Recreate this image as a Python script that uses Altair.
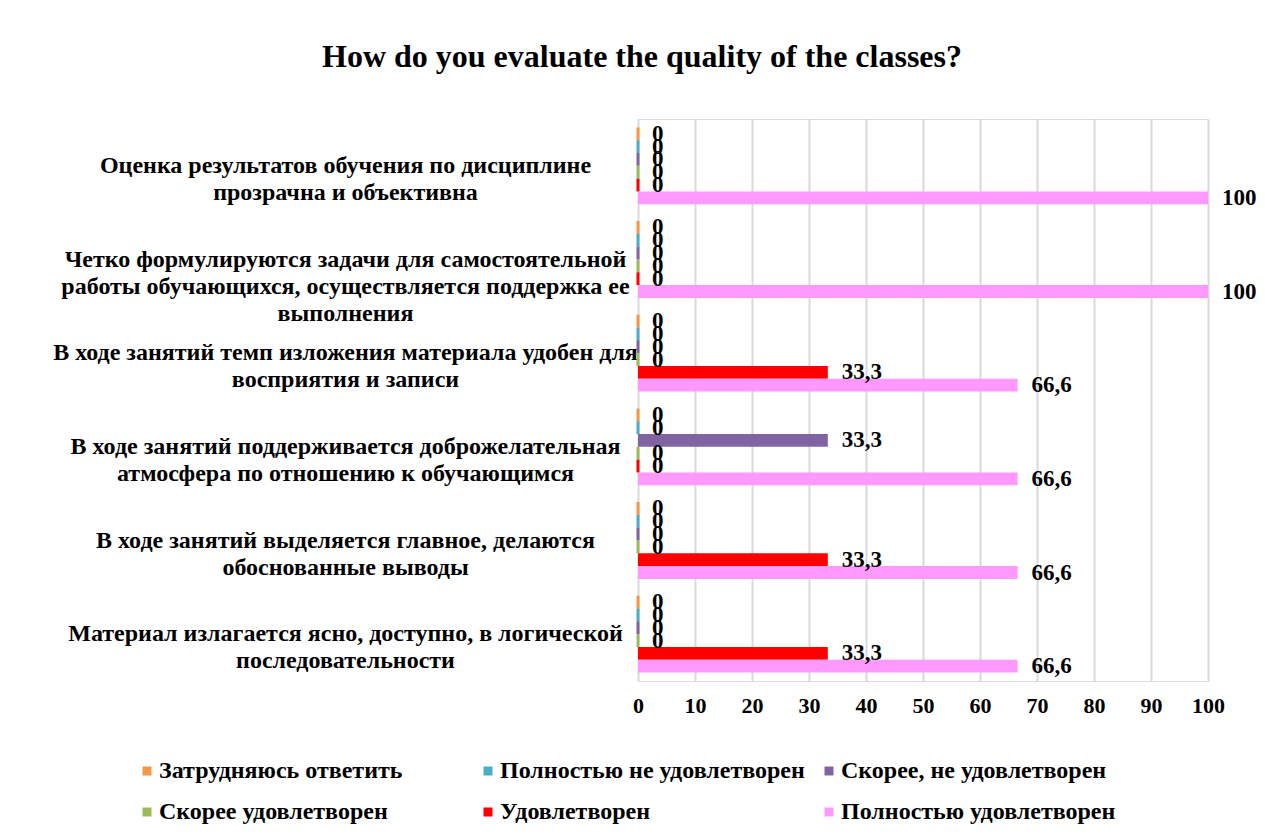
import altair as alt
import pandas as pd

categories = [
    "Оценка результатов обучения по дисциплине|прозрачна и объективна",
    "Четко формулируются задачи для самостоятельной|работы обучающихся, осуществляется поддержка ее|выполнения",
    "В ходе занятий темп изложения материала удобен для|восприятия и записи",
    "В ходе занятий поддерживается доброжелательная|атмосфера по отношению к обучающимся",
    "В ходе занятий выделяется главное, делаются|обоснованные выводы",
    "Материал излагается ясно, доступно, в логической|последовательности",
]

series = [
    "Затрудняюсь ответить",
    "Полностью не удовлетворен",
    "Скорее, не удовлетворен",
    "Скорее удовлетворен",
    "Удовлетворен",
    "Полностью удовлетворен",
]
colors = ["#F79646", "#4BACC6", "#8064A2", "#9BBB59", "#FF0000", "#FF99FF"]

v_zatr = [0, 0, 0, 0, 0, 0]
v_poln_ne = [0, 0, 0, 0, 0, 0]
v_skoree_ne = [0, 0, 0, 33.3, 0, 0]
v_skoree_ud = [0, 0, 0, 0, 0, 0]
v_ud = [0, 0, 33.3, 0, 33.3, 33.3]
v_poln_ud = [100, 100, 66.6, 66.6, 66.6, 66.6]

values = [v_zatr, v_poln_ne, v_skoree_ne, v_skoree_ud, v_ud, v_poln_ud]

rows = []
for si, s in enumerate(series):
    for ci, c in enumerate(categories):
        rows.append({"category": c, "series": s, "value": values[si][ci]})
df = pd.DataFrame(rows)

FONT = "Liberation Serif"

y_enc = alt.Y(
    "category:N",
    sort=categories,
    title=None,
    scale=alt.Scale(paddingInner=0.18, paddingOuter=0.09),
    axis=alt.Axis(
        labelExpr="split(datum.label, '|')",
        labelAlign="center",
        labelPadding=293,
        labelLimit=1000,
        labelFont=FONT,
        labelFontSize=24,
        labelFontWeight="bold",
        labelColor="black",
        labelLineHeight=27,
        ticks=False,
        domain=False,
        grid=False,
    ),
)
yoff = alt.YOffset("series:N", sort=series, scale=alt.Scale(domain=series, paddingInner=0, paddingOuter=0))

x_enc = alt.X(
    "value:Q",
    title=None,
    scale=alt.Scale(domain=[0, 100], nice=False),
    axis=alt.Axis(
        values=list(range(0, 101, 10)),
        labelFont=FONT,
        labelFontSize=22,
        labelFontWeight="bold",
        labelColor="black",
        labelPadding=14,
        labelFlush=False,
        ticks=False,
        domain=False,
        grid=True,
        gridColor="#d9d9d9",
        gridWidth=2,
    ),
)

color_enc = alt.Color(
    "series:N",
    sort=series,
    scale=alt.Scale(domain=series, range=colors),
    legend=alt.Legend(
        title=None,
        orient="none",
        direction="horizontal",
        legendX=-503,
        legendY=640,
        columns=3,
        gridAlign="all",
        columnPadding=12,
        rowPadding=17,
        symbolType="square",
        symbolSize=81,
        symbolStrokeWidth=0,
        labelOffset=0,
        labelFont=FONT,
        labelFontSize=24,
        labelFontWeight="bold",
        labelColor="black",
        labelLimit=1000,
        padding=0,
    ),
)

bars = alt.Chart(df).mark_bar(strokeWidth=3).encode(
    x=x_enc,
    y=y_enc,
    yOffset=yoff,
    color=color_enc,
    stroke=alt.condition(
        "datum.value == 0",
        alt.Stroke("series:N", scale=alt.Scale(domain=series, range=colors), legend=None),
        alt.value("transparent"),
    ),
)

labels = alt.Chart(df).transform_calculate(
    lab="replace(toString(datum.value), '.', ',')"
).mark_text(
    align="left", baseline="middle", dx=14, font=FONT, fontSize=23, fontWeight="bold", color="black"
).encode(
    x="value:Q",
    y=alt.Y("category:N", sort=categories),
    yOffset=alt.YOffset("series:N", sort=series),
    text="lab:N",
)

chart = alt.layer(bars, labels).properties(
    width=570,
    height=562,
    title=alt.Title(
        "How do you evaluate the quality of the classes?",
        font=FONT,
        fontSize=32,
        fontWeight="bold",
        color="black",
        anchor="middle",
        frame="group",
        dx=-281,
        offset=45,
    ),
    autosize=alt.AutoSizeParams(type="none"),
    padding={"left": 630, "top": 111, "right": 49, "bottom": 145},
).configure_view(stroke=None).configure(background="white")

chart.save("out.html", embed_options={"renderer": "svg", "actions": False})
